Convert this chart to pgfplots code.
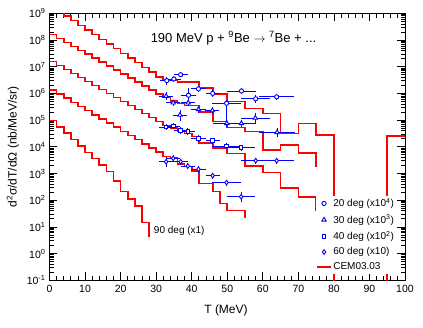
\documentclass[border=0pt]{standalone}
\usepackage{fontspec}
\setmainfont{Liberation Sans}
\usepackage{pgfplots}
\pgfplotsset{compat=1.18}

% plain blue for data, plain red for the model
\definecolor{datblue}{RGB}{0,0,255}

\pgfplotstableread{
T     Y        ex  ep   em
33.0  3.020e6  2   0.4  0.3
35.0  3.467e6  2   0.3  0.25
36.9  5.012e6  2   0.25 0.2
39.1  8.511e5  2   0.8  0.5
41.9  1.479e6  2   0.3  0.25
45.9  1.000e6  2   0.3  0.25
49.8  4.266e5  4   0.3  0.25
54.0  1.230e6  4   0.3  0.25
58.0  6.310e5  4   0.4  0.3
63.9  7.413e5  5   0.3  0.25
}\degtwenty
\pgfplotstableread{
T     Y        ex  ep   em
32.8  7.943e5  2   0.4  0.3
34.8  4.467e5  2   0.3  0.25
36.7  1.549e5  2   0.6  0.4
39.0  4.467e5  2   0.3  0.25
41.9  2.512e5  2   0.3  0.25
45.8  2.291e5  2   0.3  0.25
49.9  7.586e4  4   4.5  0.25
54.0  7.586e4  4   0.3  0.25
57.9  1.202e5  4   0.5  0.35
64.0  3.467e4  5   0.5  0.35
}\degthirty
\pgfplotstableread{
T     Y        ex  ep   em
32.8  5.495e4  2   0.3  0.25
34.8  6.026e4  2   0.3  0.25
36.9  4.074e4  2   0.3  0.25
38.9  3.802e4  2   0.3  0.25
41.9  2.089e4  2   0.3  0.25
45.9  1.698e4  2   0.3  0.25
49.8  1.072e4  4   0.3  0.25
53.9  9.333e3  4   0.3  0.25
}\degforty
\pgfplotstableread{
T     Y        ex  ep   em
32.8  2754     2   0.5  0.35
34.8  3715     2   0.3  0.25
36.9  2754     2   0.3  0.25
38.9  1905     2   0.3  0.25
41.9  1445     2   0.3  0.25
45.9  831.8    2   0.3  0.25
49.8  457.1    4   0.3  0.25
53.9  134.9    4   0.5  0.35
58.0  3020     4   0.3  0.25
63.9  3020     5   0.3  0.25
}\degsixty

\pgfplotsset{
  cem/.style={color=red, line width=1.6pt, const plot mark left, no marks, forget plot},
  expdata/.style={datblue, only marks, line width=0.9pt,
    mark options={fill=white, draw=datblue, line width=0.9pt},
    error bars/x dir=both, error bars/x explicit,
    error bars/y dir=both, error bars/y explicit relative,
    error bars/error mark=none,
    error bars/error bar style={datblue, line width=0.9pt}},
}

\begin{document}
\begin{tikzpicture}
\useasboundingbox (-49.5pt,-46.7pt) rectangle (373.5pt,280.3pt);
\fill[white] (-49.5pt,-46.7pt) rectangle (373.5pt,280.3pt);
\begin{axis}[
  scale only axis, width=355.5pt, height=267pt,
  xmin=0, xmax=100, ymin=0.1, ymax=1e9, ymode=log,
  axis line style={black, line width=1pt},
  tick align=inside, major tick length=8pt, minor tick length=4.5pt,
  tick style={black, line width=0.8pt},
  xtick={0,10,...,100}, minor x tick num=4,
  ytick={1e-1,1,10,100,1e3,1e4,1e5,1e6,1e7,1e8,1e9},
  yticklabels={10\textsuperscript{-1},10\textsuperscript{0},10\textsuperscript{1},10\textsuperscript{2},10\textsuperscript{3},10\textsuperscript{4},10\textsuperscript{5},10\textsuperscript{6},10\textsuperscript{7},10\textsuperscript{8},10\textsuperscript{9}},
  minor ytick={2e-1,3e-1,4e-1,5e-1,6e-1,7e-1,8e-1,9e-1,
    2,3,4,5,6,7,8,9, 20,30,40,50,60,70,80,90,
    200,300,400,500,600,700,800,900,
    2e3,3e3,4e3,5e3,6e3,7e3,8e3,9e3, 2e4,3e4,4e4,5e4,6e4,7e4,8e4,9e4,
    2e5,3e5,4e5,5e5,6e5,7e5,8e5,9e5, 2e6,3e6,4e6,5e6,6e6,7e6,8e6,9e6,
    2e7,3e7,4e7,5e7,6e7,7e7,8e7,9e7, 2e8,3e8,4e8,5e8,6e8,7e8,8e8,9e8},
  tick label style={font=\fontsize{10.5}{12}\selectfont},
  /pgf/number format/assume math mode=true,
  xticklabel style={yshift=-1.5pt},
  yticklabel style={xshift=-0.5pt},
  xlabel={T (MeV)}, ylabel={d\textsuperscript{2}σ/dT/dΩ (nb/MeV/sr)},
  label style={font=\fontsize{12}{14}\selectfont},
  xlabel style={at={(axis description cs:0.4965,-0.111)}, anchor=center},
  ylabel style={at={(axis description cs:-0.1027,0.5)}, anchor=center},
  legend style={at={(axis cs:74.8,150)}, anchor=north west, draw=none, fill=white,
    font=\fontsize{10}{12}\selectfont, inner sep=1pt, row sep=2.8pt,
    nodes={inner sep=1.8pt}},
  legend cell align=left,
  legend image code/.code={\draw[mark repeat=2,mark phase=2,#1] plot coordinates {(0pt,0pt)(6.65pt,0pt)(13.3pt,0pt)};},
]

% CEM03.03 histograms
\addplot[cem] coordinates {(0,1.778e9) (2,1.189e9) (4,7.943e8) (6,5.309e8) (8,3.548e8) (10,2.371e8) (12,1.585e8) (14,1.059e8) (16,7.079e7) (18,4.732e7) (20,3.162e7) (22,2.113e7) (24,1.413e7) (26,9.441e6) (28,6.310e6) (30,4.217e6) (32,3.311e6) (34,3.162e6) (36,2.630e6) (42,1.585e6) (46,9.333e5) (50,4.898e5) (55,2.754e5) (60,1.738e5) (65,3.162e4) (70,7.586e4) (75,2.754e4) (80,1e-5) (95,2.512e4) (100,2.512e4)};
\addplot[cem] coordinates {(0,1.622e8) (2,1.151e8) (4,8.166e7) (6,5.794e7) (8,4.111e7) (10,2.917e7) (12,2.070e7) (14,1.469e7) (16,1.042e7) (18,7.396e6) (20,5.248e6) (22,3.724e6) (24,2.642e6) (26,1.875e6) (28,1.330e6) (30,9.441e5) (32,7.079e5) (34,5.248e5) (36,4.169e5) (38,3.548e5) (42,1.995e5) (46,8.913e4) (50,5.248e4) (55,3.715e4) (60,7.586e3) (65,1.175e4) (70,5.754e3) (75,5.754e3) (75,1.778e3)};
\addplot[cem] coordinates {(0,1.549e7) (2,1.099e7) (4,7.780e6) (6,5.521e6) (8,3.908e6) (10,2.773e6) (12,1.968e6) (14,1.393e6) (16,9.886e5) (18,6.998e5) (20,4.966e5) (22,3.524e5) (24,2.495e5) (26,1.770e5) (28,1.253e5) (30,8.892e4) (32,6.310e4) (34,5.012e4) (36,3.981e4) (38,3.162e4) (40,2.399e4) (42,1.413e4) (46,8.913e3) (50,5.623e3) (55,1.950e3) (60,1.096e3) (65,2.884e2) (70,1.288e2) (75,1.288e2) (75,40)};
\addplot[cem] coordinates {(0,1.349e6) (2,9.441e5) (4,6.607e5) (6,4.624e5) (8,3.236e5) (10,2.265e5) (12,1.585e5) (14,1.109e5) (16,7.762e4) (18,5.433e4) (20,3.802e4) (22,2.661e4) (24,1.862e4) (26,1.303e4) (28,9.120e3) (30,6.383e3) (32,4.266e3) (34,3.715e3) (36,2.291e3) (38,1.820e3) (40,1.259e3) (42,4.266e2) (46,2.089e2) (48,75.86) (50,40.74) (55,40.74) (55,20.89)};
\addplot[cem] coordinates {(0,9.550e4) (2,5.495e4) (4,3.236e4) (6,1.862e4) (8,1.072e4) (10,6.166e3) (12,3.631e3) (14,2.089e3) (16,1.202e3) (18,537.0) (20,213.8) (22,109.6) (24,61.66) (26,14.79) (28,14.79) (28,4.266)};

% measured points
\addplot[expdata, mark=*, mark size=2.1pt] table[x=T, y=Y, x error=ex, y error plus=ep, y error minus=em] {\degtwenty};
\addlegendentry{20 deg (x10\textsuperscript{4})}
\addplot[expdata, mark=triangle*, mark size=2.5pt] table[x=T, y=Y, x error=ex, y error plus=ep, y error minus=em] {\degthirty};
\addlegendentry{30 deg (x10\textsuperscript{3})}
\addplot[expdata, mark=square*, mark size=1.8pt] table[x=T, y=Y, x error=ex, y error plus=ep, y error minus=em] {\degforty};
\addlegendentry{40 deg (x10\textsuperscript{2})}
\addplot[expdata, mark=diamond*, mark size=2.3pt] table[x=T, y=Y, x error=ex, y error plus=ep, y error minus=em] {\degsixty};
\addlegendentry{60 deg (x10)}
\addlegendimage{color=red, line width=1.6pt}
\addlegendentry{CEM03.03}

\node[font=\fontsize{13}{15}\selectfont] at (axis description cs:0.5176,0.9075)
  {190 MeV p + \textsuperscript{9}Be $\rightarrow$ \textsuperscript{7}Be + ...};
\node[anchor=west, font=\fontsize{10}{12}\selectfont] at (axis cs:28.4,7.2) {90 deg (x1)};
\end{axis}
\end{tikzpicture}
\end{document}
